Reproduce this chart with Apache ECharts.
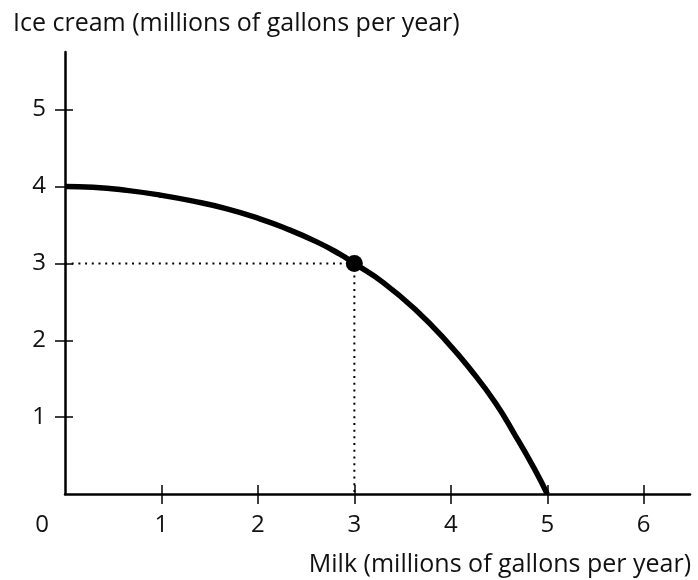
<!DOCTYPE html>
<html><head><meta charset="utf-8">
<script src="https://cdn.jsdelivr.net/npm/echarts@6/dist/echarts.min.js"></script>
<style>html,body{margin:0;padding:0;background:#fff}#c{width:698px;height:580px}</style>
</head><body><div id="c"></div>
<script>
const yTitle = 'Ice cream (millions of gallons per year)';
const xTitle = 'Milk (millions of gallons per year)';
const xTicks = [0, 1, 2, 3, 4, 5, 6];
const yTicks = [1, 2, 3, 4, 5];
const milk = [0, 0.29, 0.64, 0.98, 1.33, 1.68, 2.02, 2.26, 2.61, 2.85, 3.0, 3.30, 3.64, 3.96, 4.21, 4.46, 4.66, 4.87, 5.0];
const iceCream = [4.0, 3.99, 3.95, 3.89, 3.81, 3.71, 3.58, 3.47, 3.28, 3.12, 3.0, 2.75, 2.39, 1.98, 1.61, 1.19, 0.78, 0.32, 0];
const pointX = [3];
const pointY = [3];

const FONT = 'Open Sans';
const TXT = '#111';
const curve = milk.map((m, i) => [m, iceCream[i]]);
const guide = [[0, pointY[0]], [pointX[0], pointY[0]], [pointX[0], 0]];

const axisCommon = {
  type: 'value', min: 0, interval: 1,
  splitLine: { show: false }
};
const chart = echarts.init(document.getElementById('c'));
chart.setOption({
  animation: false,
  title: [
    { text: yTitle, left: 8, top: 6, textStyle: { fontFamily: FONT, fontSize: 25, fontWeight: 'normal', color: TXT } },
    { text: xTitle, right: 2, top: 547, textStyle: { fontFamily: FONT, fontSize: 25, fontWeight: 'normal', color: TXT } }
  ],
  grid: { left: 65, right: 8, top: 52, bottom: 86 },
  xAxis: [
    Object.assign({}, axisCommon, {
      max: 6.48, position: 'bottom',
      axisLine: { show: true, lineStyle: { color: '#000', width: 2.5 } },
      axisTick: { show: true, length: 10, customValues: xTicks.slice(1), lineStyle: { color: '#000', width: 1.5 } },
      axisLabel: {
        show: true, customValues: xTicks, margin: 19,
        fontFamily: FONT, fontSize: 24, color: TXT,
        formatter: v => v === 0 ? '{z|0}' : String(v),
        rich: { z: { fontFamily: FONT, fontSize: 24, color: TXT, padding: [0, 46, 0, 0] } }
      }
    }),
    Object.assign({}, axisCommon, {
      max: 6.48, position: 'bottom',
      axisLine: { show: false },
      axisTick: { show: true, inside: true, length: 9, customValues: xTicks.slice(1), lineStyle: { color: '#000', width: 1.5 } },
      axisLabel: { show: false }
    })
  ],
  yAxis: [
    Object.assign({}, axisCommon, {
      max: 5.75, position: 'left',
      axisLine: { show: true, lineStyle: { color: '#000', width: 2.5 } },
      axisTick: { show: true, length: 10, customValues: yTicks, lineStyle: { color: '#000', width: 1.5 } },
      axisLabel: { show: true, customValues: yTicks, margin: 19, fontFamily: FONT, fontSize: 24, color: TXT }
    }),
    Object.assign({}, axisCommon, {
      max: 5.75, position: 'left',
      axisLine: { show: false },
      axisTick: { show: true, inside: true, length: 8, customValues: yTicks, lineStyle: { color: '#000', width: 1.5 } },
      axisLabel: { show: false }
    })
  ],
  series: [
    {
      type: 'line', data: guide, xAxisIndex: 0, yAxisIndex: 0,
      showSymbol: false, silent: true,
      lineStyle: { color: '#000', width: 2, type: [2, 4.7] }, z: 1
    },
    {
      type: 'line', data: curve, xAxisIndex: 0, yAxisIndex: 0,
      smooth: 0.5, showSymbol: false, silent: true,
      lineStyle: { color: '#000', width: 5.5 }, z: 2
    },
    {
      type: 'scatter', data: pointX.map((x, i) => [x, pointY[i]]), xAxisIndex: 0, yAxisIndex: 0,
      symbolSize: 17, itemStyle: { color: '#000', opacity: 1 }, z: 3
    }
  ]
});
</script></body></html>
